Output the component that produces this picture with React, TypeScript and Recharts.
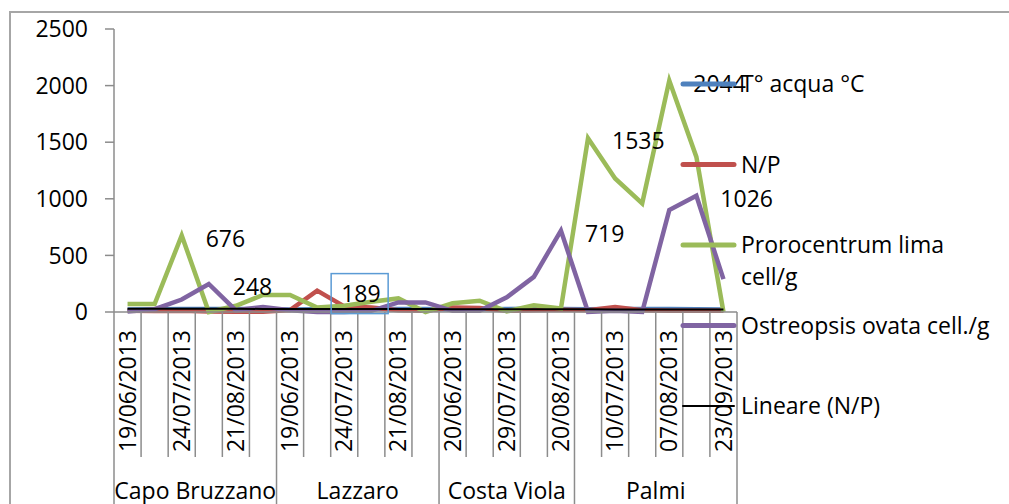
import React from "react";
import { LineChart, Line, XAxis, YAxis, LabelList } from "recharts";

// x categories (Excel only printed every other date)
const dates = [
  "19/06/2013", "", "24/07/2013", "", "21/08/2013", "",
  "19/06/2013", "", "24/07/2013", "", "21/08/2013", "",
  "20/06/2013", "", "29/07/2013", "", "20/08/2013",
  "", "10/07/2013", "", "07/08/2013", "", "23/09/2013",
];
const sites = [
  "Capo Bruzzano", "Capo Bruzzano", "Capo Bruzzano", "Capo Bruzzano", "Capo Bruzzano", "Capo Bruzzano",
  "Lazzaro", "Lazzaro", "Lazzaro", "Lazzaro", "Lazzaro", "Lazzaro",
  "Costa Viola", "Costa Viola", "Costa Viola", "Costa Viola", "Costa Viola",
  "Palmi", "Palmi", "Palmi", "Palmi", "Palmi", "Palmi",
];

const tempAcqua = [23, 24, 26, 27, 27, 25, 23, 25, 26, 27, 27, 26, 23, 25, 27, 28, 27, 25, 26, 27, 26, 25, 23];
const nP = [10, 8, 12, 5, 3, 2, 18, 189, 50, 40, 15, 10, 40, 35, 10, 15, 20, 15, 45, 15, 10, 10, 10];
const prorocentrum = [70, 70, 676, 0, 55, 150, 150, 40, 55, 90, 120, 0, 77, 100, 5, 60, 30, 1535, 1180, 960, 2044, 1370, 0];
const ostreopsis = [5, 25, 110, 248, 15, 45, 15, 0, 0, 10, 85, 85, 10, 10, 130, 310, 719, 0, 10, 0, 900, 1026, 290];

// which points carry a value label
const npLabels = [7];
const proroLabels = [2, 17, 20];
const ostreoLabels = [3, 16, 21];

const yTicks = [0, 500, 1000, 1500, 2000, 2500];

const BLUE = "#4F81BD";
const RED = "#C0504D";
const GREEN = "#9BBB59";
const PURPLE = "#8064A2";
const AXIS = "#8c8c8c";
const FONT = "'Open Sans', sans-serif";
const FS = 23;

const PLOT_W = 623;
const BAND = PLOT_W / dates.length; // Excel puts points between tick marks

// linear trend of N/P (Excel "Lineare")
const n = nP.length;
const mx = (n - 1) / 2;
const my = nP.reduce((a, b) => a + b, 0) / n;
let sxy = 0;
let sxx = 0;
nP.forEach((v, i) => {
  sxy += (i - mx) * (v - my);
  sxx += (i - mx) * (i - mx);
});
const slope = sxy / sxx;

const data = dates.map((_, i) => ({
  k: i,
  temp: tempAcqua[i],
  np: nP[i],
  proro: prorocentrum[i],
  ostreo: ostreopsis[i],
  trend: my + slope * (i - mx),
}));

const legendItems = [
  { lines: ["T° acqua °C"], color: BLUE, w: 5 },
  { lines: ["N/P"], color: RED, w: 5 },
  { lines: ["Prorocentrum lima", "cell/g"], color: GREEN, w: 5 },
  { lines: ["Ostreopsis ovata cell./g"], color: PURPLE, w: 5 },
  { lines: ["Lineare (N/P)"], color: "#000", w: 2 },
];

function CategoryTick(props: any) {
  const { x, y, payload } = props;
  const i = payload.value as number;
  const left = x - BAND / 2;
  const groupStart = i === 0 || sites[i] !== sites[i - 1];
  const last = i === dates.length - 1;
  let count = 0;
  if (groupStart) {
    for (let j = i; j < sites.length && sites[j] === sites[i]; j++) count++;
  }
  return (
    <g>
      <line x1={left} x2={left} y1={y} y2={groupStart ? 520 : 457} stroke={AXIS} strokeWidth={1.5} />
      {last && <line x1={left + BAND} x2={left + BAND} y1={y} y2={520} stroke={AXIS} strokeWidth={1.5} />}
      {dates[i] && (
        <text
          x={x}
          y={y + 18}
          transform={`rotate(-90, ${x}, ${y + 18})`}
          textAnchor="end"
          dy="0.35em"
          fontSize={FS}
          fontFamily={FONT}
          fill="#000"
        >
          {dates[i]}
        </text>
      )}
      {groupStart && (
        <text
          x={left + (count * BAND) / 2}
          y={491}
          textAnchor="middle"
          dy="0.35em"
          fontSize={FS}
          fontFamily={FONT}
          fill="#000"
        >
          {sites[i]}
        </text>
      )}
    </g>
  );
}

function makeLabel(show: number[], boxed = false) {
  return (props: any) => {
    const { x, y, value, index } = props;
    if (!show.includes(index)) return null;
    return (
      <g>
        {boxed && (
          <rect x={x + 14} y={y - 17} width={57} height={40} fill="none" stroke="#5b9bd5" strokeWidth={1.5} />
        )}
        <text x={x + 24} y={y + 3} dy="0.35em" fontSize={FS} fontFamily={FONT} fill="#000">
          {value}
        </text>
      </g>
    );
  };
}

export default function App() {
  return (
    <div
      style={{
        position: "absolute",
        left: 0,
        top: 0,
        width: 1009,
        height: 504,
        overflow: "hidden",
        background: "#fff",
        fontFamily: FONT,
      }}
    >
      {/* chart area border (only left and top are inside the picture) */}
      <div
        style={{
          position: "absolute",
          left: 9,
          top: 11,
          width: 1100,
          height: 600,
          borderLeft: "2px solid #a6a6a6",
          borderTop: "2px solid #a6a6a6",
        }}
      />
      <div style={{ position: "absolute", left: 0, top: 0 }}>
        <LineChart width={1009} height={504} data={data} margin={{ top: 29, right: 272, bottom: 0, left: 0 }}>
          <XAxis
            dataKey="k"
            type="category"
            interval={0}
            height={192}
            padding={{ left: BAND / 2, right: BAND / 2 }}
            tickLine={false}
            tickSize={0}
            tickMargin={0}
            axisLine={{ stroke: AXIS, strokeWidth: 1.5 }}
            tick={<CategoryTick />}
          />
          <YAxis
            width={114}
            domain={[0, 2500]}
            ticks={yTicks}
            interval={0}
            tickSize={9}
            tickMargin={17}
            axisLine={{ stroke: AXIS, strokeWidth: 1.5 }}
            tickLine={{ stroke: AXIS, strokeWidth: 1.5 }}
            tick={{ fontSize: FS, fontFamily: FONT, fill: "#000" }}
          />
          <Line type="linear" dataKey="temp" stroke={BLUE} strokeWidth={4.5} dot={false} isAnimationActive={false} />
          <Line type="linear" dataKey="np" stroke={RED} strokeWidth={4.5} dot={false} isAnimationActive={false}>
            <LabelList dataKey="np" content={makeLabel(npLabels, true)} />
          </Line>
          <Line type="linear" dataKey="proro" stroke={GREEN} strokeWidth={4.5} dot={false} isAnimationActive={false}>
            <LabelList dataKey="proro" content={makeLabel(proroLabels)} />
          </Line>
          <Line type="linear" dataKey="ostreo" stroke={PURPLE} strokeWidth={4.5} dot={false} isAnimationActive={false}>
            <LabelList dataKey="ostreo" content={makeLabel(ostreoLabels)} />
          </Line>
          <Line type="linear" dataKey="trend" stroke="#000" strokeWidth={2} dot={false} isAnimationActive={false} />
        </LineChart>
      </div>
      {/* legend, drawn on top like Excel does */}
      <svg width={1009} height={504} style={{ position: "absolute", left: 0, top: 0, pointerEvents: "none" }}>
        {legendItems.map((it, i) => {
          const cy = 84 + i * 80.5;
          return (
            <g key={i}>
              <line x1={683} x2={734} y1={cy} y2={cy} stroke={it.color} strokeWidth={it.w} strokeLinecap="round" />
              {it.lines.map((t, j) => (
                <text key={j} x={741} y={cy + j * 32} dy="0.35em" fontSize={FS} fontFamily={FONT} fill="#000">
                  {t}
                </text>
              ))}
            </g>
          );
        })}
      </svg>
    </div>
  );
}
